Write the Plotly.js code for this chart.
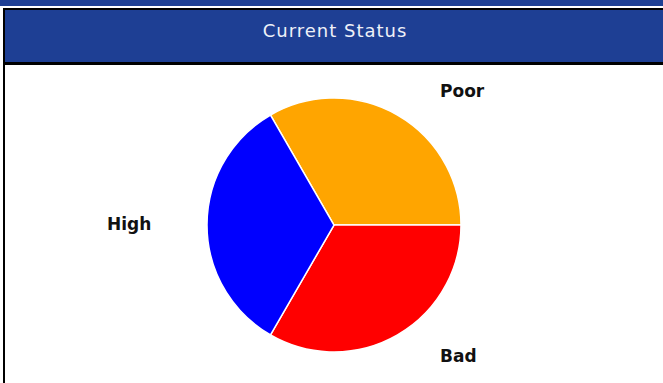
<!DOCTYPE html>
<html>
<head>
<meta charset="utf-8">
<script src="https://cdn.plot.ly/plotly-3.0.1.min.js"></script>
<style>
html,body{margin:0;padding:0;background:#fff;}
#chart{width:663px;height:383px;}
#chart .gtitle{letter-spacing:1px;}
</style>
</head>
<body>
<div id="chart"></div>
<script>
const chartTitle = "Current Status";
const categories = ["Poor", "Bad", "High"];
const values = [1, 1, 1];
const colors = ["#FFA500", "#FF0000", "#0000FF"];
const labelPos = [[462, 91], [458, 356], [129, 224]];

const W = 663, H = 383;
const fx = x => x / W;
const fy = y => 1 - y / H;
const headerBlue = "#1e3f94";

function rect(x0, y0, x1, y1, color) {
  return {type: "rect", xref: "paper", yref: "paper",
    x0: fx(x0), x1: fx(x1), y0: fy(y1), y1: fy(y0),
    fillcolor: color, line: {width: 0}, layer: "below"};
}

const cx = 334, cy = 225, r = 127;

const data = [{
  type: "pie",
  labels: categories,
  values: values,
  sort: false,
  direction: "clockwise",
  rotation: -30,
  marker: {colors: colors, line: {color: "#ffffff", width: 1.5}},
  textinfo: "none",
  hoverinfo: "label+value",
  showlegend: false,
  domain: {x: [fx(cx - r), fx(cx + r)], y: [fy(cy + r), fy(cy - r)]}
}];

const annotations = categories.map((c, i) => ({
  text: "<b>" + c + "</b>",
  xref: "paper", yref: "paper",
  x: fx(labelPos[i][0]), y: fy(labelPos[i][1]),
  xanchor: "center", yanchor: "middle",
  showarrow: false,
  font: {family: "DejaVu Sans", size: 17, color: "#111111"}
}));

const layout = {
  width: W, height: H,
  margin: {l: 0, r: 0, t: 0, b: 0},
  paper_bgcolor: "#ffffff",
  title: {text: chartTitle, x: fx(335), xanchor: "center", y: fy(31), yanchor: "middle",
    font: {family: "DejaVu Sans", size: 18, color: "#eef1f8"}},
  shapes: [
    rect(0, 0, 663, 6, headerBlue),
    rect(3, 8, 663, 65, "#000000"),
    rect(5, 10, 663, 62, headerBlue),
    rect(3, 8, 5, 383, "#000000")
  ],
  annotations: annotations
};

Plotly.newPlot("chart", data, layout, {displayModeBar: false, staticPlot: true});
</script>
</body>
</html>
